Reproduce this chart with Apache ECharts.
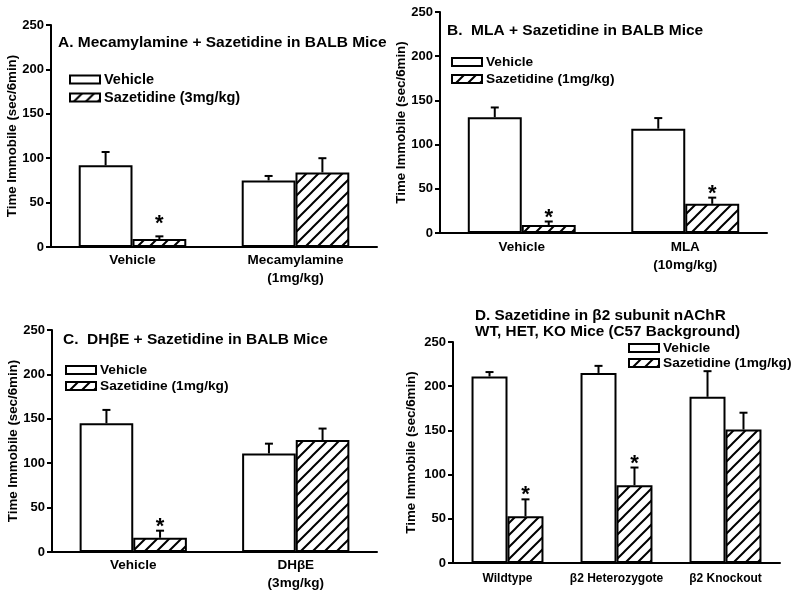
<!DOCTYPE html>
<html><head><meta charset="utf-8">
<script src="https://cdn.jsdelivr.net/npm/echarts@6/dist/echarts.min.js"></script>
<style>html,body{margin:0;padding:0;background:#fff}#c{width:800px;height:593px}</style>
</head><body><div id="c"></div>
<script>
// ---------- DATA ----------
const yMin = 0, yMax = 250, yStep = 50;
const vehName = 'Vehicle';

// Panel A
const titleA = 'A. Mecamylamine + Sazetidine in BALB Mice';
const catsA = ['Vehicle', 'Mecamylamine\n(1mg/kg)'];
const sazNameA = 'Sazetidine (3mg/kg)';
const vehA = [92, 75];
const vehErrA = [15, 5];
const sazA = [9, 84];
const sazErrA = [3, 16];
const starA = [1, 0];

// Panel B
const titleB = 'B.  MLA + Sazetidine in BALB Mice';
const catsB = ['Vehicle', 'MLA\n(10mg/kg)'];
const sazNameB = 'Sazetidine (1mg/kg)';
const vehB = [131, 118];
const vehErrB = [11, 12];
const sazB = [9, 33];
const sazErrB = [4, 7];
const starB = [1, 1];

// Panel C
const titleC = 'C.  DHβE + Sazetidine in BALB Mice';
const catsC = ['Vehicle', 'DHβE\n(3mg/kg)'];
const sazNameC = 'Sazetidine (1mg/kg)';
const vehC = [145, 111];
const vehErrC = [15, 11];
const sazC = [16, 126];
const sazErrC = [8, 13];
const starC = [1, 0];

// Panel D
const titleD = 'D. Sazetidine in β2 subunit nAChR\nWT, HET, KO Mice (C57 Background)';
const catsD = ['Wildtype', 'β2 Heterozygote', 'β2 Knockout'];
const sazNameD = 'Sazetidine (1mg/kg)';
const vehD = [211, 215, 188];
const vehErrD = [5, 8, 29];
const sazD = [53, 88, 151];
const sazErrD = [19, 20, 19];
const starD = [1, 1, 0];

const yName = 'Time Immobile (sec/6min)';

// ---------- STYLE / LAYOUT ----------
const FONT = '"Liberation Sans", Arial, sans-serif';
const GAP_RATIO = 0.34;

function hatch() {
  const s = 12;
  const cv = document.createElement('canvas');
  cv.width = s; cv.height = s;
  const ctx = cv.getContext('2d');
  ctx.fillStyle = '#fff'; ctx.fillRect(0, 0, s, s);
  ctx.strokeStyle = '#000'; ctx.lineWidth = 2;
  ctx.beginPath();
  ctx.moveTo(0, s); ctx.lineTo(s, 0);
  ctx.moveTo(-s / 2, s / 2); ctx.lineTo(s / 2, -s / 2);
  ctx.moveTo(s / 2, s * 1.5); ctx.lineTo(s * 1.5, s / 2);
  ctx.stroke();
  return cv;
}
const hatchPattern = { image: hatch(), repeat: 'repeat' };

const panels = [
  { title: titleA, cats: catsA, veh: vehA, vehErr: vehErrA, saz: sazA, sazErr: sazErrA, star: starA, sazName: sazNameA,
    grid: { left: 51, top: 25, width: 326, height: 222 }, tx: 58, ty: 43, tFont: 15.5,
    leg: { left: 69, top: 72, gap: 3, font: 14.5 }, nameGap: 31, nameFont: 13.3, xFont: 13.5, xMargin: 4, xLH: 18, starGap: 10 },
  { title: titleB, cats: catsB, veh: vehB, vehErr: vehErrB, saz: sazB, sazErr: sazErrB, star: starB, sazName: sazNameB,
    grid: { left: 440, top: 12, width: 327, height: 221 }, tx: 447, ty: 31, tFont: 15.5,
    leg: { left: 451, top: 55, gap: 3, font: 13.7 }, nameGap: 31, nameFont: 13.3, xFont: 13.5, xMargin: 5, xLH: 18, starGap: 2 },
  { title: titleC, cats: catsC, veh: vehC, vehErr: vehErrC, saz: sazC, sazErr: sazErrC, star: starC, sazName: sazNameC,
    grid: { left: 52, top: 330, width: 325, height: 222 }, tx: 63, ty: 340, tFont: 15.5,
    leg: { left: 65, top: 363, gap: 2, font: 13.7 }, nameGap: 32, nameFont: 13.3, xFont: 13.5, xMargin: 4, xLH: 18, starGap: 2 },
  { title: titleD, cats: catsD, veh: vehD, vehErr: vehErrD, saz: sazD, sazErr: sazErrD, star: starD, sazName: sazNameD,
    grid: { left: 453, top: 342, width: 327, height: 221 }, tx: 475, ty: 316, tFont: 15.3,
    leg: { left: 628, top: 341, gap: 1, font: 13.7 }, nameGap: 35, nameFont: 13.3, xFont: 12, xMargin: 7, xLH: 18, starGap: 2 }
];

const option = { animation: false, backgroundColor: '#fff', grid: [], xAxis: [], yAxis: [], series: [], legend: [], graphic: [] };

panels.forEach((p, i) => {
  option.grid.push(Object.assign({ containLabel: false }, p.grid));
  option.xAxis.push({
    type: 'category', gridIndex: i, data: p.cats,
    axisLine: { lineStyle: { color: '#000', width: 2 } },
    axisTick: { show: false },
    axisLabel: { color: '#000', fontFamily: FONT, fontWeight: 'bold', fontSize: p.xFont, margin: p.xMargin, lineHeight: p.xLH, interval: 0 }
  });
  option.yAxis.push({
    type: 'value', gridIndex: i, min: yMin, max: yMax, interval: yStep,
    name: yName, nameLocation: 'middle', nameGap: p.nameGap,
    nameTextStyle: { color: '#000', fontFamily: FONT, fontWeight: 'bold', fontSize: p.nameFont },
    axisLine: { show: true, lineStyle: { color: '#000', width: 2 } },
    axisTick: { show: true, length: 5, lineStyle: { color: '#000', width: 2 } },
    splitLine: { show: false },
    axisLabel: { color: '#000', fontFamily: FONT, fontWeight: 'bold', fontSize: 13, margin: 7 }
  });
  option.series.push({
    type: 'bar', name: vehName, xAxisIndex: i, yAxisIndex: i, data: p.veh,
    barGap: '0%', barCategoryGap: (GAP_RATIO * 100) + '%',
    itemStyle: { color: '#fff', borderColor: '#000', borderWidth: 2 }
  });
  option.series.push({
    type: 'bar', name: p.sazName, xAxisIndex: i, yAxisIndex: i, data: p.saz,
    barGap: '0%', barCategoryGap: (GAP_RATIO * 100) + '%',
    itemStyle: { color: hatchPattern, borderColor: '#000', borderWidth: 2 }
  });
  const errData = [];
  p.cats.forEach((c, k) => {
    errData.push([k, p.veh[k], p.vehErr[k], 0, -1]);
    errData.push([k, p.saz[k], p.sazErr[k], p.star[k], 1]);
  });
  const starGap = p.starGap;
  option.series.push({
    type: 'custom', xAxisIndex: i, yAxisIndex: i, data: errData, z: 5,
    encode: { x: 0, y: 1 },
    renderItem: function (params, api) {
      const cat = api.value(0), v = api.value(1), e = api.value(2), st = api.value(3), side = api.value(4);
      const band = api.size([1, 0])[0];
      const off = side * band * (1 - GAP_RATIO) / 4;
      const b = api.coord([cat, v]);
      const t = api.coord([cat, v + e]);
      const x = b[0] + off;
      const children = [
        { type: 'line', shape: { x1: x, y1: b[1], x2: x, y2: t[1] }, style: { stroke: '#000', lineWidth: 2 } },
        { type: 'line', shape: { x1: x - 4, y1: t[1], x2: x + 4, y2: t[1] }, style: { stroke: '#000', lineWidth: 2 } }
      ];
      if (st) {
        children.push({ type: 'text', style: { text: '*', x: x, y: t[1] - starGap + 9, font: 'bold 22px ' + FONT, fill: '#000', textAlign: 'center', textVerticalAlign: 'bottom' } });
      }
      return { type: 'group', children: children };
    }
  });
  option.legend.push({
    orient: 'vertical', left: p.leg.left, top: p.leg.top,
    itemWidth: 30, itemHeight: 8, itemGap: p.leg.gap, padding: 0,
    data: [{ name: vehName, icon: 'rect' }, { name: p.sazName, icon: 'rect' }],
    itemStyle: { borderColor: '#000', borderWidth: 2 },
    textStyle: { color: '#000', fontFamily: FONT, fontWeight: 'bold', fontSize: p.leg.font, lineHeight: 14, padding: [0, 0, 0, -1] },
    selectedMode: false
  });
  option.graphic.push({
    type: 'text', left: p.tx, top: p.ty - 8, z: 10,
    style: { text: p.title, font: 'bold ' + p.tFont + 'px ' + FONT, fill: '#000', lineHeight: 16 }
  });
});

const chart = echarts.init(document.getElementById('c'), null, { renderer: 'canvas' });
chart.setOption(option);
</script>
</body></html>
